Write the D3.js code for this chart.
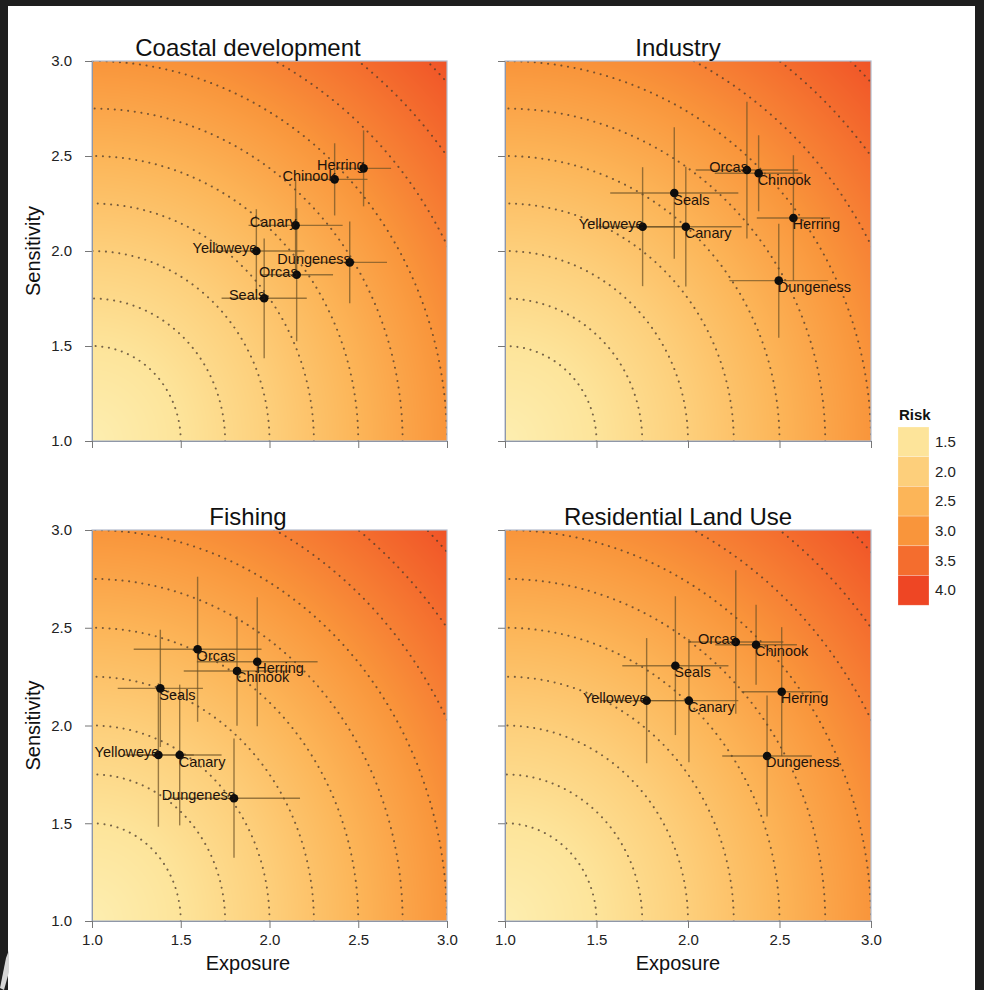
<!DOCTYPE html>
<html>
<head>
<meta charset="utf-8">
<title>Exposure vs sensitivity</title>
<script src="https://d3js.org/d3.v7.min.js"></script>
<style>
  body { margin: 0; background: #1e1e1e; }
  svg { display: block; font-family: "Liberation Sans", Arial, sans-serif; }
  .axis path, .axis line { stroke: #8f97a8; }
  .axis line { stroke: #777; }
  .axis text { font-size: 15px; fill: #222; font-family: "Liberation Sans", Arial, sans-serif; }
  .title { font-size: 24px; fill: #111; text-anchor: middle; }
  .axlabel { font-size: 20px; fill: #111; text-anchor: middle; }
  .lab { font-size: 14.5px; fill: #1f130b; }
</style>
</head>
<body>
<svg id="chart" width="984" height="990"></svg>
<script>
// species, same order in every panel
var species = ["Herring", "Chinook", "Canary", "Yelloweye", "Dungeness", "Orcas", "Seals"];

// Coastal development
var coastalExposure       = [2.53, 2.367, 2.147, 1.926, 2.452, 2.153, 1.97];
var coastalExposureErr    = [0.155, 0.185, 0.265, 0.27, 0.21, 0.205, 0.24];
var coastalSensitivity    = [2.435, 2.377, 2.135, 2.0, 1.94, 1.875, 1.751];
var coastalSensitivityErr = [0.2, 0.19, 0.24, 0.22, 0.215, 0.35, 0.315];

// Industry
var industryExposure       = [2.576, 2.386, 1.988, 1.752, 2.496, 2.322, 1.925];
var industryExposureErr    = [0.2, 0.24, 0.305, 0.25, 0.27, 0.28, 0.35];
var industrySensitivity    = [2.174, 2.409, 2.128, 2.128, 1.844, 2.426, 2.305];
var industrySensitivityErr = [0.33, 0.2, 0.315, 0.313, 0.3, 0.36, 0.346];

// Fishing
var fishingExposure       = [1.931, 1.817, 1.494, 1.374, 1.8, 1.595, 1.385];
var fishingExposureErr    = [0.34, 0.3, 0.236, 0.2, 0.372, 0.36, 0.24];
var fishingSensitivity    = [2.326, 2.279, 1.849, 1.849, 1.628, 2.39, 2.19];
var fishingSensitivityErr = [0.33, 0.28, 0.36, 0.367, 0.305, 0.371, 0.3];

// Residential land use
var residentialExposure       = [2.512, 2.372, 2.005, 1.774, 2.432, 2.261, 1.931];
var residentialExposureErr    = [0.22, 0.223, 0.27, 0.25, 0.245, 0.26, 0.29];
var residentialSensitivity    = [2.173, 2.413, 2.127, 2.127, 1.844, 2.427, 2.306];
var residentialSensitivityErr = [0.33, 0.205, 0.315, 0.32, 0.31, 0.367, 0.355];

// axis ticks, legend breaks and contour levels (risk = 1 + distance from (1,1))
var axisTicks = [1.0, 1.5, 2.0, 2.5, 3.0];
var riskBreaks = [1.5, 2.0, 2.5, 3.0, 3.5, 4.0];
var contourLevels = [1.5, 1.75, 2.0, 2.25, 2.5, 2.75, 3.0, 3.25, 3.5, 3.75];

// which side the species name sits on
var sidesAll = ["l", "l", "l", "l", "l", "l", "l"];
var sidesInd = ["r", "r", "r", "l", "r", "l", "r"];
var sidesFish = ["r", "r", "r", "l", "l", "r", "r"];

var panels = [
  {title: "Coastal development", e: coastalExposure, ee: coastalExposureErr, s: coastalSensitivity, se: coastalSensitivityErr,
   sides: sidesAll, box: [92, 447, 61, 441], tx: 248, ty: 56, xLab: false, yLab: true},
  {title: "Industry", e: industryExposure, ee: industryExposureErr, s: industrySensitivity, se: industrySensitivityErr,
   sides: sidesInd, box: [505, 871, 61, 441], tx: 678, ty: 56, xLab: false, yLab: false},
  {title: "Fishing", e: fishingExposure, ee: fishingExposureErr, s: fishingSensitivity, se: fishingSensitivityErr,
   sides: sidesFish, box: [92, 447, 530, 921], tx: 248, ty: 525, xLab: true, yLab: true},
  {title: "Residential Land Use", e: residentialExposure, ee: residentialExposureErr, s: residentialSensitivity, se: residentialSensitivityErr,
   sides: sidesInd, box: [505, 871, 530, 921], tx: 678, ty: 525, xLab: true, yLab: false}
];

var color = d3.scaleLinear()
  .domain([1.0, 1.5, 2.0, 2.5, 3.0, 3.5, 4.0])
  .range(["#fdeeb0", "#fde49a", "#fdcf7b", "#fcb558", "#f9953b", "#f46d2e", "#ee4624"])
  .clamp(true);

function risk(e, s) { return 1 + Math.hypot(e - 1, s - 1); }

var svg = d3.select("#chart");

// white page on the dark screenshot frame
svg.append("rect").attr("x", 8).attr("y", 6).attr("width", 967).attr("height", 984).attr("fill", "#fff");
svg.append("path").attr("d", "M0,988 L6,958 L9,950 L9,972 L4,990 Z").attr("fill", "#d6d6d6");

panels.forEach(function(p, pi) {
  var b = p.box;
  var x = d3.scaleLinear().domain([1, 3]).range([b[0], b[1]]);
  var y = d3.scaleLinear().domain([1, 3]).range([b[3], b[2]]);
  var w = b[1] - b[0], h = b[3] - b[2];
  var g = svg.append("g");

  // background raster of the risk surface
  var cv = document.createElement("canvas");
  cv.width = w; cv.height = h;
  var ctx = cv.getContext("2d");
  var img = ctx.createImageData(w, h);
  for (var j = 0; j < h; j++) {
    for (var i = 0; i < w; i++) {
      var c = d3.rgb(color(risk(x.invert(b[0] + i + 0.5), y.invert(b[2] + j + 0.5))));
      var k = (j * w + i) * 4;
      img.data[k] = c.r; img.data[k + 1] = c.g; img.data[k + 2] = c.b; img.data[k + 3] = 255;
    }
  }
  ctx.putImageData(img, 0, 0);
  g.append("image").attr("x", b[0]).attr("y", b[2]).attr("width", w).attr("height", h)
    .attr("preserveAspectRatio", "none").attr("href", cv.toDataURL());

  g.append("clipPath").attr("id", "clip" + pi)
    .append("rect").attr("x", b[0]).attr("y", b[2]).attr("width", w).attr("height", h);

  // dotted risk contours
  var line = d3.line().x(function(d) { return x(d[0]); }).y(function(d) { return y(d[1]); });
  g.append("g").attr("clip-path", "url(#clip" + pi + ")")
    .selectAll("path").data(contourLevels).enter().append("path")
      .attr("d", function(lv) {
        var r = lv - 1, pts = [];
        for (var t = 0; t <= 90; t += 1) {
          var a = t * Math.PI / 180;
          pts.push([1 + r * Math.cos(a), 1 + r * Math.sin(a)]);
        }
        return line(pts);
      })
      .attr("fill", "none").attr("stroke", "#4a3a2c").attr("stroke-opacity", 0.75)
      .attr("stroke-width", 2).attr("stroke-linecap", "round").attr("stroke-dasharray", "0.1 6.6");

  var pts = species.map(function(name, i) {
    return {name: name, e: p.e[i], ee: p.ee[i], s: p.s[i], se: p.se[i], side: p.sides[i]};
  });

  // error bars
  var bars = g.append("g").attr("stroke", "#6e5226").attr("stroke-opacity", 0.7).attr("stroke-width", 1.4);
  bars.selectAll("line.h").data(pts).enter().append("line").attr("class", "h")
    .attr("x1", function(d) { return x(d.e - d.ee); }).attr("x2", function(d) { return x(d.e + d.ee); })
    .attr("y1", function(d) { return y(d.s); }).attr("y2", function(d) { return y(d.s); });
  bars.selectAll("line.v").data(pts).enter().append("line").attr("class", "v")
    .attr("x1", function(d) { return x(d.e); }).attr("x2", function(d) { return x(d.e); })
    .attr("y1", function(d) { return y(d.s - d.se); }).attr("y2", function(d) { return y(d.s + d.se); });

  g.append("g").selectAll("circle").data(pts).enter().append("circle")
    .attr("cx", function(d) { return x(d.e); }).attr("cy", function(d) { return y(d.s); })
    .attr("r", 4.3).attr("fill", "#0d0d0d");

  g.append("g").selectAll("text").data(pts).enter().append("text")
    .attr("class", "lab")
    .attr("x", function(d) { return x(d.e) + (d.side === "l" ? 1 : -1); })
    .attr("y", function(d) { return y(d.s) + (d.side === "l" ? 2 : 11.5); })
    .attr("text-anchor", function(d) { return d.side === "l" ? "end" : "start"; })
    .text(function(d) { return d.name; });

  // frame
  g.append("rect").attr("x", b[0]).attr("y", b[2]).attr("width", w).attr("height", h)
    .attr("fill", "none").attr("stroke", "#b3bccd").attr("stroke-width", 1.2);

  var fmt = d3.format(".1f");
  g.append("g").attr("class", "axis").attr("transform", "translate(" + b[0] + ",0)")
    .call(d3.axisLeft(y).tickValues(axisTicks).tickSize(7).tickSizeOuter(0).tickPadding(13)
      .tickFormat(p.yLab ? fmt : function() { return ""; }));
  g.append("g").attr("class", "axis").attr("transform", "translate(0," + b[3] + ")")
    .call(d3.axisBottom(x).tickValues(axisTicks).tickSize(7).tickSizeOuter(0).tickPadding(6)
      .tickFormat(p.xLab ? fmt : function() { return ""; }));

  g.append("text").attr("class", "title").attr("x", p.tx).attr("y", p.ty).text(p.title);
  if (p.xLab) {
    g.append("text").attr("class", "axlabel").attr("x", p.tx).attr("y", 970).text("Exposure");
  }
  if (p.yLab) {
    g.append("text").attr("class", "axlabel")
      .attr("transform", "translate(40," + ((b[2] + b[3]) / 2) + ") rotate(-90)").text("Sensitivity");
  }
});

// legend
var leg = svg.append("g");
leg.append("text").attr("x", 899).attr("y", 420).attr("font-size", 15).attr("font-weight", "bold")
  .attr("fill", "#111").text("Risk");
var sw = 29.7;
leg.selectAll("rect").data(riskBreaks).enter().append("rect")
  .attr("x", 898).attr("y", function(d, i) { return 427 + i * sw; })
  .attr("width", 31).attr("height", sw)
  .attr("fill", function(d) { return color(d); })
  .attr("stroke", "#fff").attr("stroke-opacity", 0.4).attr("stroke-width", 0.6);
leg.selectAll("text.v").data(riskBreaks).enter().append("text").attr("class", "v")
  .attr("x", 935).attr("y", function(d, i) { return 427 + i * sw + sw / 2 + 5; })
  .attr("font-size", 15).attr("fill", "#222").text(function(d) { return d3.format(".1f")(d); });
</script>
</body>
</html>
